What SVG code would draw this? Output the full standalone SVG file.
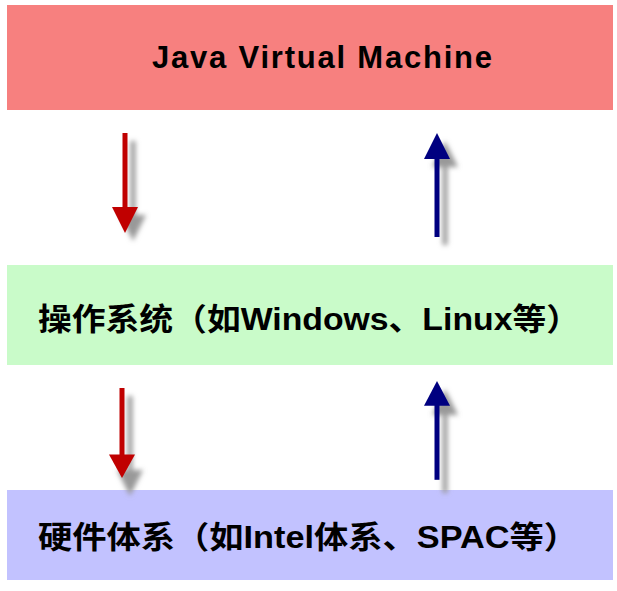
<svg xmlns="http://www.w3.org/2000/svg" width="617" height="591" viewBox="0 0 617 591">
<style>
.t{font-family:"Liberation Sans","Noto Sans CJK SC",sans-serif;font-weight:bold;font-size:31px;fill:#000;text-anchor:middle}
.sh{fill:#999;filter:url(#b)}
</style>
<defs><filter id="b" x="-50%" y="-50%" width="200%" height="200%"><feGaussianBlur stdDeviation="2.5"/></filter>
<g id="down"><rect x="-2.5" y="0" width="5" height="76"/><polygon points="-13,74 13,74 0,100"/></g>
<g id="up"><rect x="-2.5" y="24" width="5" height="80"/><polygon points="-13,26 13,26 0,0"/></g>
</defs>
<rect width="617" height="591" fill="#fff"/>
<g id="jvm"><rect x="7" y="5" width="606" height="105" fill="#F7807F"/><text class="t" x="322" y="68" textLength="340" lengthAdjust="spacing">Java Virtual Machine</text></g>
<g id="os"><rect x="7" y="265" width="606" height="100" fill="#C9FBC9"/><text class="t" x="309" y="330" textLength="542" lengthAdjust="spacingAndGlyphs">操作系统（如Windows、Linux等）</text></g>
<g id="hw"><rect x="7" y="490" width="606" height="90" fill="#C2C2FF"/><text class="t" x="308" y="548" textLength="540" lengthAdjust="spacingAndGlyphs">硬件体系（如Intel体系、SPAC等）</text></g>
<g id="connectors">
<use href="#down" x="133" y="141" class="sh"/><use href="#down" x="125" y="133" fill="#C00000"/>
<use href="#up" x="445" y="141" class="sh"/><use href="#up" x="437" y="133" fill="#000080"/>
<use href="#down" x="130" y="396" class="sh"/>
<g transform="translate(122,388) scale(1,0.9)"><use href="#down" fill="#C00000"/></g>
<use href="#up" x="445" y="389" class="sh"/>
<g transform="translate(437,381) scale(1,0.95)"><use href="#up" fill="#000080"/></g>
</g>
</svg>
